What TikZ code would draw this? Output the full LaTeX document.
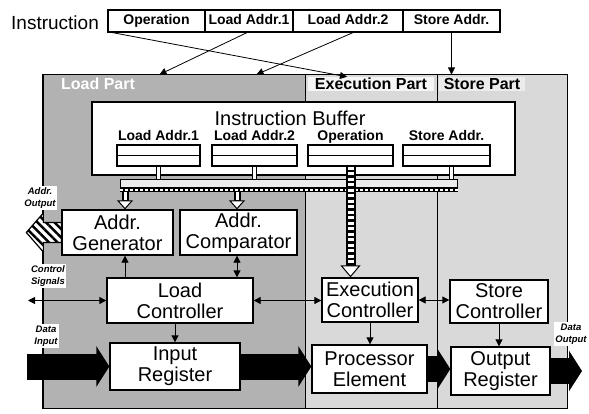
\documentclass[tikz,border=0pt]{standalone}
\usepackage{fontspec}
\setmainfont{Liberation Sans}
\usepackage{tikz}
\usetikzlibrary{arrows.meta, positioning, patterns.meta}
\tikzstyle{arrow} = [thick,->,>={Triangle[length=7pt,width=7pt]}]
\tikzstyle{block} = [rectangle, draw=black, line width=1.3pt, fill=white, align=center, inner sep=0pt, font=\fontsize{20}{21}\selectfont]
\tikzstyle{field} = [rectangle, draw=black, line width=1.2pt, minimum height=22pt, inner sep=0pt, text height=10pt, text depth=3pt, font=\bfseries\fontsize{14}{14}\selectfont]
\tikzstyle{colbg} = [rectangle, draw=black, line width=1pt, minimum height=333pt, inner sep=0pt]
\tikzstyle{slot} = [rectangle, draw=black, line width=1.3pt, fill=white, minimum height=21pt, inner sep=0pt]
\tikzstyle{slotlabel} = [inner sep=1pt, text height=10pt, text depth=3pt, font=\bfseries\fontsize{14}{14}\selectfont]
\tikzstyle{hdr} = [inner sep=1pt, minimum height=14pt, font=\bfseries\fontsize{16}{16}\selectfont]
\tikzstyle{sidelabel} = [align=center, inner sep=1pt, fill=white, font=\bfseries\itshape\fontsize{9.5}{12.5}\selectfont]
\tikzstyle{link} = [double=white, double distance=3pt, line width=1pt]
\tikzstyle{feed} = [line width=7pt, -{Triangle[fill=white, line width=1pt, length=9pt, width=16pt]}]
\tikzstyle{ladder} = [line width=10pt, -{Triangle[fill=white, line width=1pt, length=12pt, width=20pt]}]
\tikzstyle{rungs} = [white, line width=6pt, dash pattern=on 3pt off 2.5pt, shorten >=12pt]
\tikzstyle{datapath} = [line width=26pt, -{Triangle[length=13pt, width=40pt]}]

\begin{document}
\begin{tikzpicture}[x=1pt, y=-1pt]
\useasboundingbox (0,0) rectangle (589,414);

% Parts
\node (loadcol) [colbg, fill=gray!60, minimum width=262pt] at (174,241.5) {};
\node (execcol) [colbg, fill=gray!30, minimum width=132pt] at (371,241.5) {};
\node (storecol) [colbg, fill=gray!30, minimum width=130pt] at (502,241.5) {};
\draw[line width=1.5pt] (loadcol.north west) rectangle (storecol.south east);

\node (loadhdr) [hdr, text=white] at (98,84) {Load Part};
\node (exechdr) [hdr, fill=gray!8, minimum width=126pt] at (371,84) {Execution Part};
\node (storehdr) [hdr, fill=gray!15, minimum width=86pt] at (482,84) {Store Part};

% Instruction word
\node (instr) [font=\fontsize{19}{19}\selectfont] at (55,23) {Instruction};
\node (op) [field, minimum width=97pt] at (156.5,21) {Operation};
\node (la1) [field, minimum width=88pt, right=-1.2pt of op] {Load Addr.1};
\node (la2) [field, minimum width=110pt, right=-1.2pt of la1] {Load Addr.2};
\node (sa) [field, minimum width=97pt, right=-1.2pt of la2] {Store Addr.};

\draw[arrow] ([xshift=5pt]op.south west) -- ([xshift=-24pt]exechdr.north);
\draw[arrow] ([xshift=-2pt]la1.south) -- ([xshift=117pt]loadcol.north west);
\draw[arrow] ([xshift=5pt]la2.south) -- ([xshift=214pt]loadcol.north west);
\draw[arrow] (sa.south) -- (sa.south |- storecol.north);

% Instruction Buffer
\node (buffer) [rectangle, draw, line width=1.3pt, fill=white, minimum width=423pt, minimum height=73pt] at (303.5,138.5) {};
\node (buftitle) [font=\fontsize{20}{20}\selectfont] at (290,118) {Instruction Buffer};

\node (la1slot) [slot, minimum width=83pt] at (158.5,155.5) {};
\node (la2slot) [slot, minimum width=85pt] at (254.5,155.5) {};
\node (opslot) [slot, minimum width=85pt] at (350.5,155.5) {};
\node (saslot) [slot, minimum width=87pt] at (446.5,155.5) {};
\draw[line width=1.3pt] (la1slot.west) -- (la1slot.east);
\draw[line width=1.3pt] (la2slot.west) -- (la2slot.east);
\draw[line width=1.3pt] (opslot.west) -- (opslot.east);
\draw[line width=1.3pt] (saslot.west) -- (saslot.east);

\node (la1name) [slotlabel, above=0pt of la1slot] {Load Addr.1};
\node (la2name) [slotlabel, above=0pt of la2slot] {Load Addr.2};
\node (opname) [slotlabel, above=0pt of opslot] {Operation};
\node (saname) [slotlabel, above=0pt of saslot] {Store Addr.};

% Bus
\node (bus) [rectangle, draw, line width=1pt, fill=gray!15, minimum width=337pt, minimum height=12pt, inner sep=0pt] at (288.5,186) {};
\draw[line width=5pt] ([yshift=2.5pt]bus.south west) -- ([yshift=2.5pt]bus.south east);
\draw[white, line width=2.5pt, dash pattern=on 3pt off 2pt] ([yshift=2.5pt]bus.south west) -- ([yshift=2.5pt]bus.south east);

\coordinate (satap) at ([xshift=5pt]saslot.south);
\draw[link] (la1slot.south) -- (la1slot.south |- bus.north);
\draw[link] (la2slot.south) -- (la2slot.south |- bus.north);
\draw[link] (satap) -- (satap |- bus.north);

% Units
\node (gen) [block, minimum width=111pt, minimum height=45pt] at (117.5,232.5) {Addr.\\Generator};
\node (comp) [block, minimum width=117pt, minimum height=45pt] at (238.5,232.5) {Addr.\\Comparator};
\node (loadctl) [block, minimum width=146pt, minimum height=45pt] at (180,300.5) {Load\\Controller};
\node (inreg) [block, minimum width=130pt, minimum height=47pt] at (175,366.5) {Input\\Register};
\node (execctl) [block, minimum width=96pt, minimum height=44pt] at (370,300) {Execution\\Controller};
\node (pe) [block, minimum width=115pt, minimum height=48pt] at (369.5,369) {Processor\\Element};
\node (storectl) [block, minimum width=98pt, minimum height=43pt] at (499,301.5) {Store\\Controller};
\node (outreg) [block, minimum width=99pt, minimum height=48pt] at (500.5,371) {Output\\Register};

% Bus to units
\coordinate (gtap) at ([xshift=7.5pt]gen.north);
\coordinate (ctap) at ([xshift=-1.5pt]comp.north);
\draw[feed] (gtap |- bus.south) -- (gtap);
\draw[white, line width=3pt, shorten >=9pt] (gtap |- bus.south) -- (gtap);
\draw[feed] (ctap |- bus.south) -- (ctap);
\draw[white, line width=3pt, shorten >=9pt] (ctap |- bus.south) -- (ctap);
\draw[ladder] (opslot.south) -- (opslot.south |- execctl.north);
\draw[rungs] (opslot.south) -- (opslot.south |- execctl.north);

% Control
\coordinate (ctrlout) at (28,300.5);
\draw[arrow] (gtap |- loadctl.north) -- (gtap |- gen.south);
\draw[arrow, <->] (ctap |- loadctl.north) -- (ctap |- comp.south);
\draw[arrow, <->] (ctrlout) -- (loadctl.west);
\draw[arrow, <->] (loadctl.east) -- (loadctl.east -| execctl.west);
\draw[arrow, <->] (execctl.east) -- (execctl.east -| storectl.west);
\draw[arrow] (loadctl.south -| inreg.north) -- (inreg.north);
\draw[arrow] (execctl.south) -- (execctl.south |- pe.north);
\draw[arrow] (storectl.south) -- (storectl.south |- outreg.north);

% Data
\coordinate (datain) at (27,366.5);
\coordinate (dataout) at (582,371);
\draw[datapath] (datain) -- (inreg.west);
\draw[datapath] (inreg.east) -- (inreg.east -| pe.west);
\draw[datapath] (pe.east) -- (pe.east -| outreg.west);
\draw[datapath] (outreg.east) -- (dataout);

% Address output
\draw[line width=1.2pt, fill=white, postaction={pattern={Lines[angle=-45, distance=6pt, line width=2.5pt]}}]
  ([yshift=10pt]gen.west) -- ++(-18,0) -- ++(0,-9.5) -- ++(-17,19.5) -- ++(17,19.5) -- ++(0,-9.5) -- ([yshift=-10pt]gen.west) -- cycle;

% Outside labels
\node (addrlbl) [sidelabel] at (40,198) {Addr.\\Output};
\node (ctrllbl) [sidelabel] at (48,276) {Control\\Signals};
\node (inlbl) [sidelabel] at (46,336) {Data\\Input};
\node (outlbl) [sidelabel] at (571,334) {Data\\Output};

\end{tikzpicture}
\end{document}
